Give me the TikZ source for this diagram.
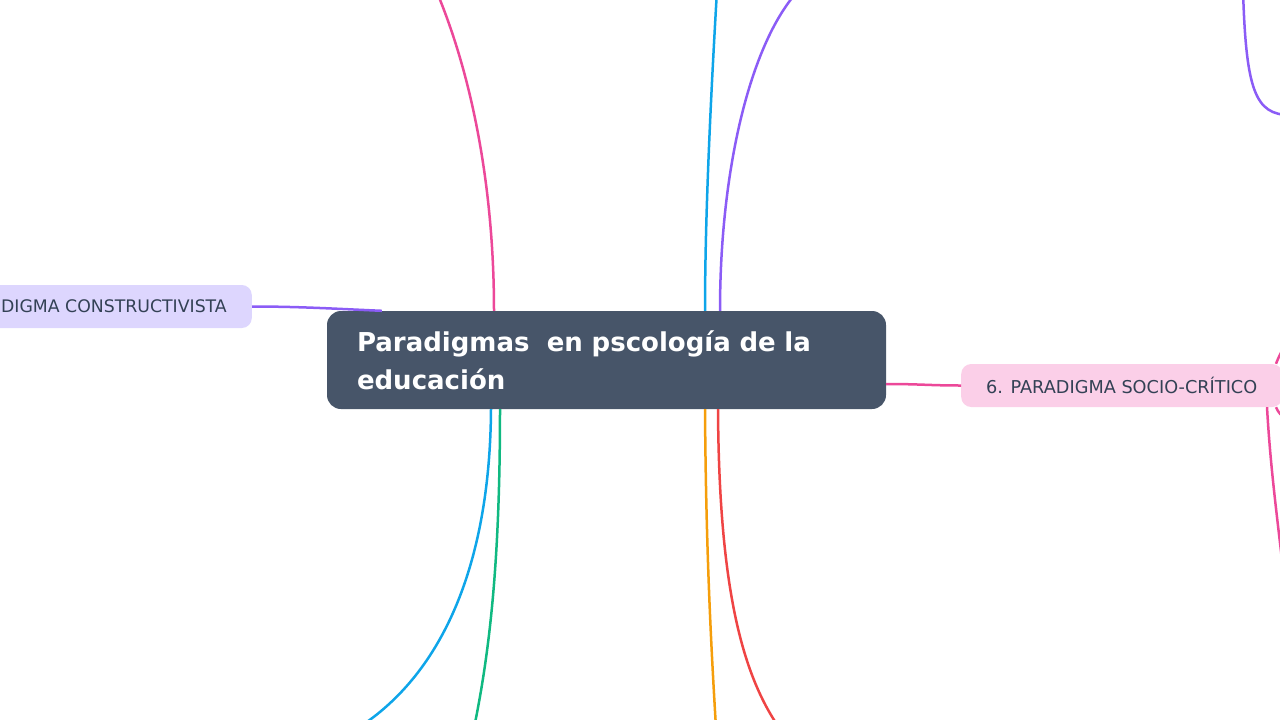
\documentclass[tikz,border=0pt]{standalone}
\usepackage{fontspec}
\setmainfont{DejaVu Sans}
\usetikzlibrary{positioning}
\definecolor{slate}{HTML}{475569}
\definecolor{ink}{HTML}{334155}
\definecolor{pinkline}{HTML}{EC4899}
\definecolor{pinkfill}{HTML}{FBCFE8}
\definecolor{violetline}{HTML}{8B5CF6}
\definecolor{violetfill}{HTML}{DDD6FE}
\definecolor{skyline}{HTML}{0EA5E9}
\definecolor{greenline}{HTML}{10B981}
\definecolor{orangeline}{HTML}{F59E0B}
\definecolor{redline}{HTML}{EF4444}

\begin{document}
\begin{tikzpicture}[x=1pt,y=-1pt,
    topic/.style={fill=slate,rounded corners=14pt,text=white,font=\fontsize{26}{38}\selectfont\bfseries,
      minimum width=559pt,minimum height=98pt,text width=499pt,align=left,inner xsep=30pt},
    branch/.style={rounded corners=10pt,text=ink,font=\fontsize{17.7}{20}\selectfont,minimum height=43pt,inner xsep=25pt},
    link/.style={line width=2.5pt}]
      \useasboundingbox(0,0)rectangle(1280,720);
      \clip(0,0)rectangle(1280,720);
      % nodes
      \node[topic](c)at(606.5,360){Paradigmas\ \ en pscología de la\\educación};
      \node[branch,fill=pinkfill,anchor=west](socio)at(961,385.5){6. PARADIGMA SOCIO-CRÍTICO};
      \node[branch,fill=violetfill,anchor=east,font=\fontsize{17.3}{20}\selectfont](constr)at(252,306.5){DIGMA CONSTRUCTIVISTA};
      % off-screen ends
      \coordinate(up1)at(436,-10);
      \coordinate(up2)at(717,-10);
      \coordinate(up3)at(797,-8);
      \coordinate(dn1)at(358,728);
      \coordinate(dn2)at(474,728);
      \coordinate(dn3)at(716,728);
      \coordinate(dn4)at(778,726);
      \coordinate(sc1)at(1286,345);
      \coordinate(sc2)at(1282,560);
      \coordinate(sc3)at(1288,420);
      \coordinate(vp1)at(1243,-10);
      \coordinate(vp2)at(1290,115);
      % connectors
      \draw[link,pinkline]([xshift=-112.5pt]c.north)..controls(494,200)and(476,85)..(up1);
      \draw[link,skyline]([xshift=98.5pt]c.north)..controls(705,200)and(713,60)..(up2);
      \draw[link,violetline]([xshift=113.5pt]c.north)..controls(720,170)and(750,45)..(up3);
      \draw[link,skyline]([xshift=-115.5pt]c.south)..controls(490,560)and(445,672)..(dn1);
      \draw[link,greenline]([xshift=-106.5pt]c.south)..controls(500,560)and(490,650)..(dn2);
      \draw[link,orangeline]([xshift=98.5pt]c.south)..controls(706,560)and(712,660)..(dn3);
      \draw[link,redline]([xshift=111.5pt]c.south)..controls(719,580)and(740,670)..(dn4);
      \draw[link,violetline](constr.east)..controls(300,306.5)and(340,309)..([xshift=55pt]c.north west);
      \draw[link,pinkline]([yshift=-24pt]c.east)..controls(920,384)and(930,385.5)..(socio.west);
      \draw[link,pinkline]([xshift=315pt]socio.north west)..controls(1279,356)and(1282,350)..(sc1);
      \draw[link,pinkline]([xshift=306pt]socio.south west)..controls(1270,460)and(1275,500)..(sc2);
      \draw[link,pinkline]([xshift=315pt]socio.south west)..controls(1278,412)and(1281,416)..(sc3);
      \draw[link,violetline](vp1)..controls(1246,90)and(1255,115)..(vp2);
\end{tikzpicture}
\end{document}
